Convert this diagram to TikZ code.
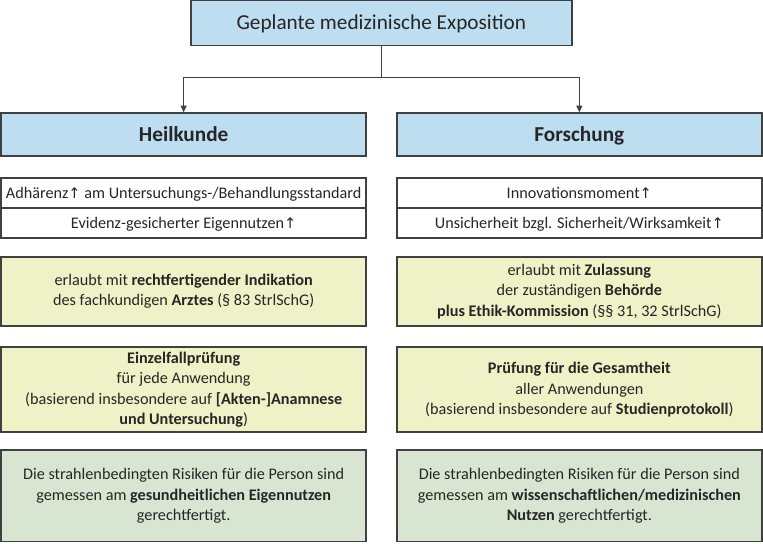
\documentclass[tikz,border=0pt]{standalone}
\usepackage{fontspec}
\setmainfont{Carlito}
\newfontfamily\arrowfont{DejaVu Sans}
\usetikzlibrary{arrows.meta}

\definecolor{headblue}{RGB}{189,221,240}
\definecolor{ruleyellow}{RGB}{239,241,199}
\definecolor{verdictgreen}{RGB}{216,230,209}
\definecolor{framegray}{RGB}{64,64,64}

% small up arrow behind the trait words
\newcommand{\incr}{{\arrowfont\fontsize{11}{11}\selectfont\char"2191}}

\begin{document}
\begin{tikzpicture}[
      every node/.style={font=\fontsize{12.2}{15.5}\selectfont, text=black!85},
      box/.style={rectangle, draw=framegray, line width=1.1pt, minimum width=9.66cm, align=center, inner sep=0pt},
      title/.style={box, fill=headblue, minimum width=10.08cm, minimum height=1.19cm, text height=10.3pt, text depth=0pt, font=\fontsize{16}{19}\selectfont},
      head/.style={box, fill=headblue, minimum height=1.14cm, text height=10.3pt, text depth=0pt, font=\fontsize{16}{19}\selectfont\bfseries},
      trait/.style={box, fill=white, minimum height=0.79cm, text height=7.9pt, text depth=0pt},
      permit/.style={box, fill=ruleyellow, minimum height=1.83cm},
      review/.style={box, fill=ruleyellow, minimum height=2.25cm},
      verdict/.style={box, fill=verdictgreen, minimum height=2.43cm},
      link/.style={draw=framegray, line width=0.8pt, -{Triangle[length=5pt, width=4.5pt]}}
  ]
    \useasboundingbox (0,0) rectangle (20.19,-14.39);

    \node[title] (expo) at (10.09,-0.61) {Geplante medizinische Exposition};

    \node[head] (heil) at (4.86,-3.56) {Heilkunde};
    \node[head] (forsch) at (15.33,-3.56) {Forschung};

    \draw[link] (expo.south) -- (expo.south |- 0,-2.06) -| (heil.north);
    \draw[link] (expo.south |- 0,-2.06) -| (forsch.north);

    % traits
    \node[trait] (heil1) at (4.86,-5.11) {Adhärenz\incr{} am Untersuchungs-/Behandlungsstandard};
    \node[trait] (heil2) at (4.86,-5.90) {Evidenz-gesicherter Eigennutzen\incr};
    \node[trait] (forsch1) at (15.33,-5.11) {Innovationsmoment\incr};
    \node[trait] (forsch2) at (15.33,-5.90) {Unsicherheit bzgl. Sicherheit/Wirksamkeit\incr};

    % legal basis
    \node[permit] (heil3) at (4.86,-7.71) {erlaubt mit \textbf{rechtfertigender Indikation}\\des fachkundigen \textbf{Arztes} (§ 83 StrlSchG)};
    \node[permit] (forsch3) at (15.33,-7.71) {erlaubt mit \textbf{Zulassung}\\der zuständigen \textbf{Behörde}\\\textbf{plus Ethik-Kommission} (§§ 31, 32 StrlSchG)};

    \node[review] (heil4) at (4.86,-10.31) {\textbf{Einzelfallprüfung}\\für jede Anwendung\\(basierend insbesondere auf \textbf{[Akten-]Anamnese}\\\textbf{und Untersuchung})};
    \node[review] (forsch4) at (15.33,-10.31) {\textbf{Prüfung für die Gesamtheit}\\aller Anwendungen\\(basierend insbesondere auf \textbf{Studienprotokoll})};

    % justification
    \node[verdict] (heil5) at (4.86,-13.12) {Die strahlenbedingten Risiken für die Person sind\\gemessen am \textbf{gesundheitlichen Eigennutzen}\\gerechtfertigt.};
    \node[verdict] (forsch5) at (15.33,-13.12) {Die strahlenbedingten Risiken für die Person sind\\gemessen am \textbf{wissenschaftlichen/medizinischen}\\\textbf{Nutzen} gerechtfertigt.};
  \end{tikzpicture}
\end{document}
